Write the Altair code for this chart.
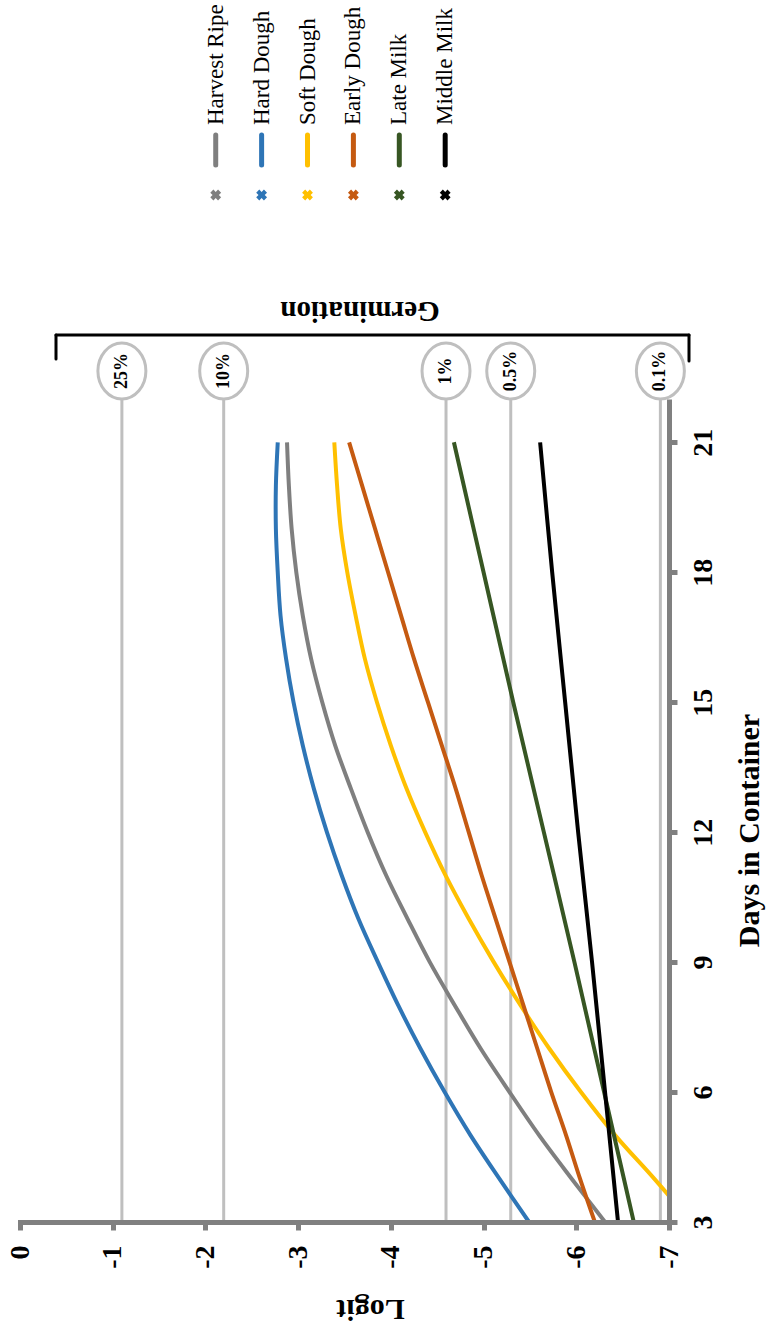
import altair as alt
import pandas as pd

# ---------------- data ----------------
series_names = ["Harvest Ripe", "Hard Dough", "Soft Dough", "Early Dough", "Late Milk", "Middle Milk"]
series_colors = ["#7f7f7f", "#2e75b6", "#ffc000", "#c55a11", "#375623", "#000000"]

days = [3, 4, 5, 6, 7, 8, 9, 10, 11, 12, 13, 14, 15, 16, 17, 18, 19, 20, 21]
harvest_ripe = [-6.31, -5.95, -5.60, -5.28, -4.97, -4.69, -4.42, -4.18, -3.95, -3.75,
                -3.57, -3.40, -3.26, -3.14, -3.05, -2.98, -2.93, -2.90, -2.88]
hard_dough = [-5.49, -5.17, -4.86, -4.58, -4.32, -4.08, -3.86, -3.65, -3.47, -3.31,
              -3.17, -3.05, -2.95, -2.87, -2.81, -2.78, -2.76, -2.76, -2.78]
soft_dough = [-7.24, -6.84, -6.42, -6.05, -5.71, -5.40, -5.11, -4.84, -4.59, -4.37,
              -4.17, -4.00, -3.85, -3.72, -3.62, -3.53, -3.46, -3.42, -3.39]
early_dough = [-6.20, -6.04, -5.89, -5.73, -5.58, -5.43, -5.28, -5.13, -4.98, -4.84,
               -4.70, -4.55, -4.40, -4.25, -4.11, -3.97, -3.83, -3.69, -3.55]
milk_days = [3, 6, 9, 12, 15, 18, 21]
late_milk = [-6.62, -6.30, -5.98, -5.65, -5.32, -5.00, -4.68]
middle_milk = [-6.45, -6.31, -6.17, -6.02, -5.88, -5.74, -5.61]

germ_labels = ["25%", "10%", "1%", "0.5%", "0.1%"]
germ_logits = [-1.099, -2.197, -4.595, -5.293, -6.907]

logit_ticks = [0, -1, -2, -3, -4, -5, -6, -7]
day_ticks = [3, 6, 9, 12, 15, 18, 21]

# ---------------- tables ----------------
rows = []
for name, xs, vals in [
    ("Harvest Ripe", days, harvest_ripe),
    ("Hard Dough", days, hard_dough),
    ("Soft Dough", days, soft_dough),
    ("Early Dough", days, early_dough),
    ("Late Milk", milk_days, late_milk),
    ("Middle Milk", milk_days, middle_milk),
]:
    for d, v in zip(xs, vals):
        rows.append({"series": name, "day": d, "logit": v})
curves = pd.DataFrame(rows)
germ = pd.DataFrame({"label": germ_labels, "logit": germ_logits})
legend_df = pd.DataFrame({"series": series_names, "idx": list(range(len(series_names)))})
one = pd.DataFrame({"k": [0]})

W, H = 649, 823
SERIF = "Liberation Serif"
AXIS_GRAY = "#808080"
REF_GRAY = "#bfbfbf"

x_scale = alt.Scale(domain=[-7, 0], reverse=True, nice=False, zero=False)
y_scale = alt.Scale(domain=[3, 22], nice=False, zero=False)
color_scale = alt.Scale(domain=series_names, range=series_colors)

x_axis = alt.Axis(
    values=logit_ticks, orient="bottom", grid=False, zindex=1,
    labelExpr="toString(datum.value)", labelAngle=270, labelAlign="right", labelBaseline="middle",
    labelFont=SERIF, labelFontWeight="bold", labelFontSize=28, labelColor="black",
    labelPadding=15, labelOverlap=False, labelFlush=False,
    tickSize=8, tickWidth=5, tickColor=AXIS_GRAY,
    domainColor=AXIS_GRAY, domainWidth=5, domainCap="square",
    title="Logit", titleFont=SERIF, titleFontWeight="bold", titleFontSize=30, titleColor="black",
    titleAngle=180, titleX=350, titleY=86, titleAlign="center", titleBaseline="middle",
)
y_axis = alt.Axis(
    values=day_ticks, orient="right", grid=False, zindex=1,
    labelAngle=270, labelAlign="center", labelBaseline="top",
    labelFont=SERIF, labelFontWeight="bold", labelFontSize=28, labelColor="black",
    labelPadding=12, labelOverlap=False, labelFlush=False,
    tickSize=8, tickWidth=5, tickColor=AXIS_GRAY,
    domainColor=AXIS_GRAY, domainWidth=5,
    title="Days in Container", titleFont=SERIF, titleFontWeight="bold", titleFontSize=30,
    titleColor="black", titleAngle=270, titleX=80, titleY=431, titleAlign="center",
    titleBaseline="middle",
)


def xenc(field):
    return alt.X(field, type="quantitative", scale=x_scale, axis=x_axis)


# germination reference lines
ref_rules = alt.Chart(germ).mark_rule(color=REF_GRAY, strokeWidth=3).encode(
    x=xenc("logit"), y=alt.value(-2), y2=alt.value(H),
)
ellipse_path = "M -0.857 0 A 0.857 1 0 1 0 0.857 0 A 0.857 1 0 1 0 -0.857 0 Z"
ellipses = alt.Chart(germ).mark_point(
    shape=ellipse_path, size=56 * 56, filled=True, fill="white", stroke=REF_GRAY,
    strokeWidth=3, opacity=1,
).encode(x=xenc("logit"), y=alt.value(-28))
ellipse_text = alt.Chart(germ).mark_text(
    angle=270, font=SERIF, fontWeight="bold", fontSize=18, align="center",
    baseline="middle", color="black",
).encode(x=xenc("logit"), y=alt.value(-28), text="label:N")

lines = alt.Chart(curves).mark_line(strokeWidth=4, clip=True, interpolate="catmull-rom").encode(
    x=xenc("logit"),
    y=alt.Y("day:Q", scale=y_scale, axis=y_axis),
    color=alt.Color("series:N", scale=color_scale, legend=None),
    order=alt.Order("day:Q"),
)

# bracket + "Germination"
bracket_top = alt.Chart(one).mark_rule(color="black", strokeWidth=3, strokeCap="round").encode(
    x=alt.value(36), x2=alt.value(669), y=alt.value(-64))
bracket_left = alt.Chart(one).mark_rule(color="black", strokeWidth=3, strokeCap="round").encode(
    x=alt.value(36), y=alt.value(-64), y2=alt.value(-40))
bracket_right = alt.Chart(one).mark_rule(color="black", strokeWidth=3, strokeCap="round").encode(
    x=alt.value(669), y=alt.value(-64), y2=alt.value(-38))
germ_title = alt.Chart(one).mark_text(
    text="Germination", angle=180, font=SERIF, fontWeight="bold", fontSize=29,
    align="center", baseline="middle", color="black",
).encode(x=alt.value(340), y=alt.value(-88))

# manual legend (rotated)
leg_base = alt.Chart(legend_df).transform_calculate(lx="-2.111 - 0.495 * datum.idx")
leg_marks = leg_base.mark_point(shape="cross", angle=45, filled=True, size=120, opacity=1).encode(
    x=xenc("lx"), y=alt.value(-204),
    color=alt.Color("series:N", scale=color_scale, legend=None))
leg_lines = leg_base.mark_rule(strokeWidth=5, strokeCap="round").encode(
    x=xenc("lx"), y=alt.value(-264), y2=alt.value(-234),
    color=alt.Color("series:N", scale=color_scale, legend=None))
leg_text = leg_base.mark_text(
    angle=270, font=SERIF, fontSize=23, align="left", baseline="middle", color="black",
).encode(x=xenc("lx"), y=alt.value(-274), text="series:N")

chart = alt.layer(
    ref_rules, ellipses, ellipse_text, lines,
    bracket_top, bracket_left, bracket_right, germ_title,
    leg_marks, leg_lines, leg_text,
).properties(
    width=W, height=H,
    autosize=alt.AutoSizeParams(type="none"),
    padding={"left": 20, "top": 399, "right": 97, "bottom": 104},
    background="white",
).configure_view(strokeWidth=0)

chart.save("out.html", embed_options={"renderer": "svg", "actions": False})
